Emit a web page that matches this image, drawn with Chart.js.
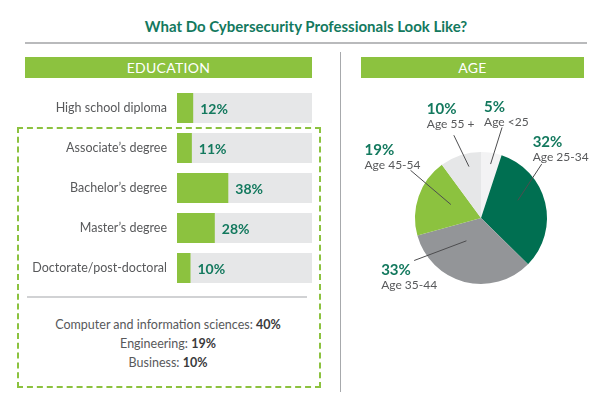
<!DOCTYPE html>
<html>
<head>
<meta charset="utf-8">
<script src="https://cdn.jsdelivr.net/npm/chart.js@4"></script>
<style>
  body { margin: 0; width: 600px; height: 401px; background: #fff; overflow: hidden; position: relative; font-family: Lato, "Open Sans", sans-serif; }
  .abs { position: absolute; }
  #title { left: 0; width: 612px; top: 17px; text-align: center; font-size: 15px; font-weight: bold; color: #13795e; }
  #rule { left: 25px; top: 42px; width: 562px; height: 0; border-top: 2px solid #b9babc; }
  #vsep { left: 340px; top: 52px; width: 0; height: 340px; border-left: 1px solid #a7a9ac; }
  .head { top: 57px; height: 21px; background: #8cc23f; color: #fff; font-size: 14px; line-height: 22px; text-align: center; letter-spacing: 0.3px; }
  #eduHead { left: 25px; width: 287px; }
  #ageHead { left: 361px; width: 223px; }
  #dash { left: 17px; top: 127px; width: 300px; height: 257px; border: 2px dashed #8cc23f; }
  #hline { left: 27px; top: 296px; width: 280px; border-top: 2px solid #d1d2d4; }
  #fields { left: 20px; width: 296px; top: 315px; text-align: center; font-size: 12.5px; line-height: 19px; color: #58595b; }
  #fields b { color: #3a3a3c; }
  #eduChart { left: 0; top: 88px; }
  #ageChart { left: 340px; top: 90px; }
</style>
</head>
<body>
<div class="abs" id="title">What Do Cybersecurity Professionals Look Like?</div>
<div class="abs" id="rule"></div>
<div class="abs" id="vsep"></div>
<div class="abs head" id="eduHead">EDUCATION</div>
<div class="abs head" id="ageHead">AGE</div>
<div class="abs" id="dash"></div>
<div class="abs" id="hline"></div>
<div class="abs" id="fields"></div>
<canvas class="abs" id="eduChart" width="330" height="200"></canvas>
<canvas class="abs" id="ageChart" width="260" height="220"></canvas>

<script>
const eduCategories = ['High school diploma', 'Associate\u2019s degree', 'Bachelor\u2019s degree', 'Master\u2019s degree', 'Doctorate/post-doctoral'];
const eduValues = [12, 11, 38, 28, 10];

const fieldNames = ['Computer and information sciences', 'Engineering', 'Business'];
const fieldValues = [40, 19, 10];

const ageLabels = ['Age <25', 'Age 25-34', 'Age 35-44', 'Age 45-54', 'Age 55 +'];
const ageValues = [5, 32, 33, 19, 10];
const ageColors = ['#f3f3f4', '#006f51', '#939598', '#8cc23f', '#e6e7e8'];

// leader line placement: angle offsets (deg) from slice middle, radius fractions, text offsets
const leaders = [
  { ia: 1, ir: 0.83, oa: 4, or: 1.41, tx: -18, ty: -20 },
  { ia: -12, ir: 0.62, oa: -28, or: 1.23, tx: -9, ty: -22 },
  { ia: 18, ir: 0.41, oa: 43, or: 1.2, tx: -33, ty: 10 },
  { ia: 5, ir: 0.5, oa: 15, or: 1.29, tx: -46, ty: -20 },
  { ia: 5, ir: 0.8, oa: 0, or: 1.32, tx: -27, ty: -26 }
];

const teal = '#13795e';
const grayText = '#58595b';

document.getElementById('fields').innerHTML = fieldNames
  .map((n, i) => n + ': <b>' + fieldValues[i] + '%</b>').join('<br>');

const trackPlugin = {
  id: 'track',
  beforeDatasetsDraw(chart) {
    const ctx = chart.ctx;
    const area = chart.chartArea;
    ctx.save();
    ctx.fillStyle = '#e6e7e8';
    chart.getDatasetMeta(0).data.forEach(bar => {
      ctx.fillRect(area.left, bar.y - bar.height / 2, area.right - area.left, bar.height);
    });
    ctx.restore();
  },
  afterDatasetsDraw(chart) {
    const ctx = chart.ctx;
    ctx.save();
    ctx.fillStyle = teal;
    ctx.font = 'bold 14px Lato, sans-serif';
    ctx.textBaseline = 'middle';
    chart.getDatasetMeta(0).data.forEach((bar, i) => {
      ctx.fillText(eduValues[i] + '%', bar.x + 7, bar.y + 1);
    });
    ctx.restore();
  }
};

new Chart(document.getElementById('eduChart'), {
  type: 'bar',
  data: {
    labels: eduCategories,
    datasets: [{
      data: eduValues,
      backgroundColor: '#8cc23f',
      borderWidth: 0,
      categoryPercentage: 0.75,
      barPercentage: 1
    }]
  },
  options: {
    indexAxis: 'y',
    responsive: false,
    animation: false,
    layout: { padding: { left: 0, right: 18, top: 0, bottom: 0 } },
    plugins: { legend: { display: false }, tooltip: { enabled: false } },
    scales: {
      x: { min: 0, max: 100, display: false },
      y: {
        grid: { display: false, drawTicks: false },
        border: { display: false },
        afterFit(scale) {
          scale.width = 177;
          scale.paddingTop = 0;
          scale.paddingBottom = 0;
        },
        ticks: { padding: 10, color: grayText, font: { family: 'Lato', size: 12.5 } }
      }
    }
  },
  plugins: [trackPlugin]
});

const leaderPlugin = {
  id: 'leaders',
  afterDatasetsDraw(chart) {
    const ctx = chart.ctx;
    ctx.save();
    chart.getDatasetMeta(0).data.forEach((arc, i) => {
      const L = leaders[i];
      const mid = (arc.startAngle + arc.endAngle) / 2;
      const r = arc.outerRadius;
      const ia = mid + L.ia * Math.PI / 180;
      const oa = mid + L.oa * Math.PI / 180;
      const x1 = arc.x + Math.cos(ia) * r * L.ir, y1 = arc.y + Math.sin(ia) * r * L.ir;
      const x2 = arc.x + Math.cos(oa) * r * L.or, y2 = arc.y + Math.sin(oa) * r * L.or;
      ctx.strokeStyle = '#4d4d4f';
      ctx.lineWidth = 1;
      ctx.beginPath();
      ctx.moveTo(x1, y1);
      ctx.lineTo(x2, y2);
      ctx.stroke();
      ctx.textAlign = 'left';
      ctx.textBaseline = 'middle';
      ctx.fillStyle = teal;
      ctx.font = 'bold 15px Lato, sans-serif';
      ctx.fillText(ageValues[i] + '%', x2 + L.tx, y2 + L.ty);
      ctx.fillStyle = grayText;
      ctx.font = '12px Lato, sans-serif';
      ctx.fillText(ageLabels[i], x2 + L.tx, y2 + L.ty + 15);
    });
    ctx.restore();
  }
};

new Chart(document.getElementById('ageChart'), {
  type: 'pie',
  data: {
    labels: ageLabels,
    datasets: [{
      data: ageValues,
      backgroundColor: ageColors,
      borderWidth: 0
    }]
  },
  options: {
    responsive: false,
    animation: false,
    layout: { padding: { left: 75, right: 53, top: 62, bottom: 26 } },
    plugins: { legend: { display: false }, tooltip: { enabled: false } }
  },
  plugins: [leaderPlugin]
});
</script>
</body>
</html>
